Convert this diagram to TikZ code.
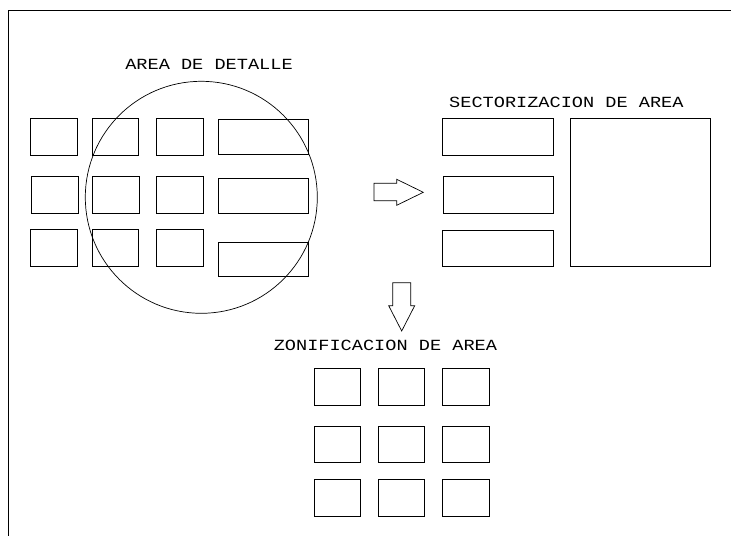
\documentclass[tikz,border=0pt]{standalone}
\usepackage{fontspec}
\newfontfamily\cadfont{Liberation Mono}
\usetikzlibrary{fit}
\tikzset{
  cell/.style={draw=black, line width=0.8pt, inner sep=0pt, outer sep=0pt},
  cadtext/.style={font=\cadfont\fontsize{15.5}{16}\selectfont, inner sep=0pt, text=black},
  blockarrow/.style={draw=black, line width=0.7pt, line join=miter},
  frameline/.style={draw=black, line width=0.9pt}
}
\newcommand{\bx}[5]{\node[cell, fit={(#2,#3)(#4,#5)}] (#1) {};}
\begin{document}
\begin{tikzpicture}[x=1pt, y=-1pt]
\useasboundingbox (0,0) rectangle (731,536);
% frame (top and left edges)
\coordinate (ftr) at (731,10);
\coordinate (ftl) at (8,10);
\coordinate (fbl) at (8,536);
\draw[frameline] (ftr) -- (ftl) -- (fbl);

% Area de detalle grid
\bx{a11}{30.7}{118.3}{77.3}{155}
\bx{a12}{92.7}{118.3}{138.7}{155}
\bx{a13}{156.7}{118.3}{203}{155}
\bx{a14}{218.3}{119.7}{308.3}{154.3}
\bx{a21}{31.3}{176.3}{78}{213.3}
\bx{a22}{92.7}{176.3}{139.3}{213.3}
\bx{a23}{156.7}{176.3}{203.7}{213.3}
\bx{a24}{218.3}{178.3}{308.3}{213.7}
\bx{a31}{30.7}{229.3}{77.3}{266.3}
\bx{a32}{92.7}{229.3}{138.7}{266.3}
\bx{a33}{156.7}{229.3}{203}{266.3}
\bx{a34}{218.3}{242}{308.3}{276.3}
\node[draw=black, line width=0.7pt, circle, minimum size=232pt, inner sep=0pt] (detail) at (201.3,197.3) {};
\node[cadtext] (tdet) at (209,64.2) {\scalebox{1.2}[1]{AREA DE DETALLE}};

% Sectorizacion
\bx{s1}{442.3}{118.3}{553.3}{155}
\bx{s2}{443}{176.3}{553.7}{213.3}
\bx{s3}{442.3}{230}{553.3}{266.3}
\bx{sbig}{570.7}{118.3}{710.7}{266.3}
\node[cadtext] (tsec) at (566.4,102.2) {\scalebox{1.2}[1]{SECTORIZACION DE AREA}};

% right block arrow
\draw[blockarrow] (374,183.3) -- (396.7,183.3) -- (396.7,179.3) -- (423.3,192.3)
  -- (396.7,205.3) -- (396.7,200.7) -- (374,200.7) -- cycle;

% down block arrow
\draw[blockarrow] (392.7,282.7) -- (410.7,282.7) -- (410.7,305.7) -- (414.7,305.7)
  -- (401.7,331) -- (388.7,305.7) -- (392.7,305.7) -- cycle;

% Zonificacion
\node[cadtext] (tzon) at (385.4,345.4) {\scalebox{1.2}[1]{ZONIFICACION DE AREA}};
\bx{z11}{314.3}{368}{360.7}{405}
\bx{z12}{378}{368}{424.7}{405}
\bx{z13}{442.3}{368}{489}{405}
\bx{z21}{314.3}{426}{360.7}{462.7}
\bx{z22}{378}{426}{424.7}{462.7}
\bx{z23}{442.3}{426}{489}{462.7}
\bx{z31}{314.3}{479.3}{360.7}{516}
\bx{z32}{378}{479.3}{424.7}{516}
\bx{z33}{442.3}{479.3}{489}{516}
\end{tikzpicture}
\end{document}
